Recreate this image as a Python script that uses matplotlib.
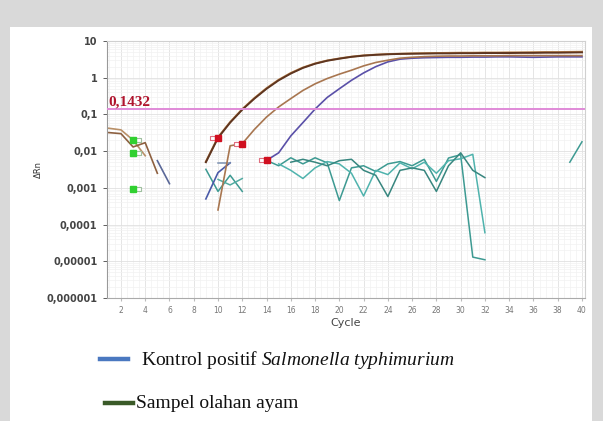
import numpy as np
import matplotlib.pyplot as plt
from matplotlib.lines import Line2D
from matplotlib.patches import Rectangle
from matplotlib.ticker import FixedLocator, MultipleLocator, LogLocator, NullFormatter

plt.rcParams['mathtext.fontset'] = 'custom'
plt.rcParams['mathtext.rm'] = 'Liberation Serif'
plt.rcParams['mathtext.it'] = 'Liberation Serif:italic'

# amplification curves (delta Rn per cycle)
cyc_main = np.arange(9, 41)
amp_dark = [0.005, 0.023, 0.06, 0.135, 0.27, 0.50, 0.85, 1.3, 1.85, 2.4, 2.9, 3.3,
            3.7, 4.0, 4.2, 4.35, 4.45, 4.5, 4.55, 4.6, 4.6, 4.65, 4.65, 4.7, 4.7,
            4.7, 4.75, 4.75, 4.8, 4.8, 4.85, 4.9]
amp_orange = [0.0052, 0.024, 0.062, 0.14, 0.28, 0.52, 0.88, 1.35, 1.9, 2.45, 2.95, 3.35,
              3.75, 4.05, 4.25, 4.4, 4.5, 4.6, 4.65, 4.7, 4.75, 4.8, 4.8, 4.85, 4.85,
              4.9, 4.9, 4.95, 5.0, 5.0, 5.05, 5.1]
cyc_tan = np.arange(10, 41)
amp_tan = [0.00025, 0.014, 0.016, 0.039, 0.085, 0.16, 0.27, 0.45, 0.68, 0.95, 1.25,
           1.6, 2.1, 2.6, 3.0, 3.4, 3.6, 3.75, 3.85, 3.9, 3.9, 3.95, 3.95, 3.95, 4.0,
           4.0, 4.0, 4.0, 4.0, 4.0, 4.0]
cyc_pos = np.arange(14, 41)
amp_pos = [0.0056, 0.009, 0.026, 0.06, 0.14, 0.29, 0.5, 0.85, 1.35, 2.0, 2.7, 3.2,
           3.4, 3.5, 3.55, 3.6, 3.6, 3.65, 3.65, 3.7, 3.7, 3.65, 3.6, 3.65, 3.7,
           3.7, 3.7]

# short early fragments
cyc_e1 = [1, 2, 3, 4]
amp_e1 = [0.042, 0.038, 0.020, 0.0075]
cyc_e2 = [1, 2, 3, 4, 5]
amp_e2 = [0.032, 0.030, 0.013, 0.017, 0.0025]
cyc_s1 = [5, 6]
amp_s1 = [0.0055, 0.0013]
cyc_b1 = [9, 10, 11]
amp_b1 = [0.0005, 0.0026, 0.0048]
cyc_b2 = [10, 11]
amp_b2 = [0.0048, 0.0048]
cyc_t1 = [9, 10, 11, 12]
amp_t1 = [0.0032, 0.0008, 0.0022, 0.0008]
cyc_t2 = [10, 11, 12]
amp_t2 = [0.0017, 0.0012, 0.0018]

# negative / noise traces
cyc_n1 = np.arange(14, 33)
amp_n1 = [0.0056, 0.0040, 0.0066, 0.0045, 0.0066, 0.0048, 0.00045, 0.0035, 0.0040,
          0.0028, 0.0045, 0.0052, 0.0040, 0.0060, 0.0015, 0.0065, 0.0080, 1.3e-5, 1.1e-5]
cyc_n2 = np.arange(15, 33)
amp_n2 = [0.0045, 0.0030, 0.0018, 0.0035, 0.0052, 0.0045, 0.0025, 0.0006, 0.0030,
          0.0023, 0.0048, 0.0033, 0.0050, 0.0025, 0.0055, 0.0062, 0.0082, 6e-5]
cyc_n3 = np.arange(16, 33)
amp_n3 = [0.0050, 0.0060, 0.0050, 0.0040, 0.0055, 0.0060, 0.0030, 0.0022, 0.00058,
          0.0030, 0.0035, 0.0030, 0.0008, 0.0040, 0.0090, 0.0030, 0.0019]
cyc_n4 = [39, 40]
amp_n4 = [0.005, 0.018]

# Ct markers
ct_red_x = [10, 12, 14]
ct_red_y = [0.023, 0.016, 0.0056]
ct_green_x = [3, 3, 3]
ct_green_y = [0.020, 0.009, 0.00095]

threshold = 0.1432
ytick_vals = [1e-6, 1e-5, 1e-4, 1e-3, 1e-2, 1e-1, 1, 10]
ytick_text = ['0,000001', '0,00001', '0,0001', '0,001', '0,01', '0,1', '1', '10']
xtick_vals = list(range(2, 41, 2))

fig = plt.figure(figsize=(6.03, 4.21), dpi=100, facecolor='#d9d9d9')
fig.add_artist(Rectangle((10 / 603, 0), 582 / 603, 1 - 27 / 421, zorder=-5,
                         transform=fig.transFigure, facecolor='white', edgecolor='none'))

ax = fig.add_axes([107 / 603, 1 - 298 / 421, 478 / 603, 257 / 421])
ax.set_yscale('log')
ax.set_ylim(1e-6, 10)
ax.set_xlim(0.85, 40.25)

ax.yaxis.set_major_locator(FixedLocator(ytick_vals))
ax.set_yticklabels(ytick_text)
ax.yaxis.set_minor_locator(LogLocator(base=10, subs=np.arange(2, 10)))
ax.yaxis.set_minor_formatter(NullFormatter())
ax.xaxis.set_major_locator(FixedLocator(xtick_vals))
ax.xaxis.set_minor_locator(MultipleLocator(0.5))
ax.grid(which='major', color='#e0e0e0', lw=0.6)
ax.grid(which='minor', color='#f2f2f2', lw=0.5)
ax.set_axisbelow(True)

ax.tick_params(axis='y', which='major', labelsize=7, colors='#444444', length=3,
               width=0.6, pad=4)
ax.tick_params(axis='x', which='major', labelsize=5.5, labelcolor='#777777',
               color='#bbbbbb', length=2, pad=4)
ax.tick_params(which='minor', length=0)
for lab in ax.get_yticklabels():
    lab.set_fontweight('bold')
for side in ['top', 'right']:
    ax.spines[side].set_color('#d0d0d0')
ax.spines['left'].set_color('#999999')
ax.spines['bottom'].set_color('#aaaaaa')

ax.set_xlabel('Cycle', fontsize=8, color='#444444', labelpad=2)
ax.set_ylabel('ΔRn', fontsize=6, color='#333333')
ax.yaxis.set_label_coords(-0.135, 0.5)

# threshold
ax.axhline(threshold, color='#e08ad8', lw=1.4, zorder=3)
ax.text(0.003, threshold * 1.03, '0,1432', transform=ax.get_yaxis_transform(),
        fontsize=11, fontweight='bold', family='Liberation Serif', color='#b0152e',
        va='bottom', ha='left', zorder=4)

# noise
ax.plot(cyc_n1, amp_n1, color='#3d9a92', lw=1.1)
ax.plot(cyc_n2, amp_n2, color='#4fb3ad', lw=1.1)
ax.plot(cyc_n3, amp_n3, color='#37867f', lw=1.1)
ax.plot(cyc_n4, amp_n4, color='#3d9a92', lw=1.1)
ax.plot(cyc_t1, amp_t1, color='#3d9a92', lw=1.1)
ax.plot(cyc_t2, amp_t2, color='#52aca2', lw=1.1)

# early fragments
ax.plot(cyc_e1, amp_e1, color='#b99068', lw=1.2)
ax.plot(cyc_e2, amp_e2, color='#8d6040', lw=1.2)
ax.plot(cyc_s1, amp_s1, color='#5a6898', lw=1.2)
ax.plot(cyc_b1, amp_b1, color='#4a5aa8', lw=1.2)
ax.plot(cyc_b2, amp_b2, color='#7a90b0', lw=1.1)

# amplification
ax.plot(cyc_pos, amp_pos, color='#5a50a8', lw=1.2)
ax.plot(cyc_tan, amp_tan, color='#a87650', lw=1.2)
ax.plot(cyc_main, amp_orange, color='#c08850', lw=1.4)
ax.plot(cyc_main, amp_dark, color='#5e3520', lw=1.4)

# Ct markers: filled square with an open box beside it
box_left = [(-2.4, -0.7), (0, -0.7), (0, 0.7), (-2.4, 0.7), (-2.4, -0.7)]
box_right = [(2.4, -0.7), (0, -0.7), (0, 0.7), (2.4, 0.7), (2.4, -0.7)]
ax.plot(ct_red_x, ct_red_y, ls='none', marker=box_left, ms=11, mfc='white',
        mec='#e07080', mew=0.8, zorder=5)
ax.plot(ct_red_x, ct_red_y, ls='none', marker='s', ms=4.5, mfc='#d01020',
        mec='#d01020', zorder=6)
ax.plot(ct_green_x, ct_green_y, ls='none', marker=box_right, ms=11, mfc='white',
        mec='#a0c0a0', mew=0.8, zorder=5)
ax.plot(ct_green_x, ct_green_y, ls='none', marker='s', ms=4.5, mfc='#30d030',
        mec='#30d030', zorder=6)

# legend
fig.add_artist(Line2D([100 / 603, 128 / 603], [1 - 359 / 421, 1 - 359 / 421],
                      transform=fig.transFigure, color='#4a78c0', lw=3.2))
fig.text(141 / 603, 1 - 360 / 421,
         r'Kontrol positif $\mathit{Salmonella\ typhimurium}$',
         family='Liberation Serif', fontsize=14, va='center', ha='left', color='#111111')
fig.add_artist(Line2D([105 / 603, 133 / 603], [1 - 403 / 421, 1 - 403 / 421],
                      transform=fig.transFigure, color='#3a5a28', lw=3.2))
fig.text(136 / 603, 1 - 404 / 421, 'Sampel olahan ayam',
         family='Liberation Serif', fontsize=14, va='center', ha='left', color='#111111')

fig.savefig('out.png', dpi=100, facecolor=fig.get_facecolor())
